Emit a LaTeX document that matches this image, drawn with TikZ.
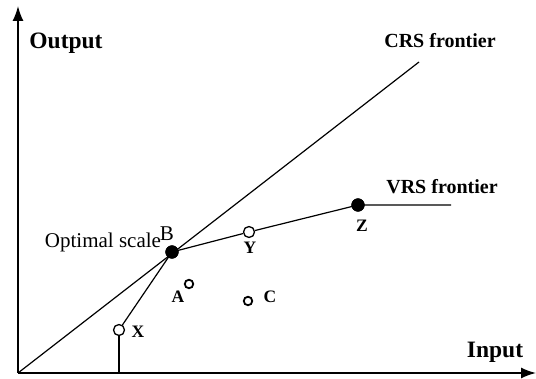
\documentclass[tikz,border=0pt]{standalone}
\usepackage{fontspec}
\setmainfont{Liberation Serif}
\usetikzlibrary{arrows.meta}
\begin{document}
\begin{tikzpicture}[x=1pt,y=-1pt,
  line width=1.2pt,
  axis/.style={line width=1.6pt,-{Latex[length=15pt,width=11pt]}},
  opendot/.style={circle,draw,fill=white,line width=1.3pt,inner sep=0pt,minimum size=11pt},
  filldot/.style={circle,draw,fill=black,inner sep=0pt,minimum size=12pt},
  small/.style={circle,draw,fill=white,line width=1.8pt,inner sep=0pt,minimum size=8.5pt},
  bigl/.style={font=\fontsize{23.5}{26}\selectfont\bfseries},
  midl/.style={font=\fontsize{20}{23}\selectfont\bfseries},
  ptl/.style={font=\fontsize{17.5}{20}\selectfont\bfseries},
  reg/.style={font=\fontsize{21}{24}\selectfont}]
\useasboundingbox (0,0) rectangle (536,379);
\coordinate (O) at (18,373);
\coordinate (ytop) at (18,6);
\coordinate (xend) at (536,373);
\coordinate (crsend) at (419,62);
\coordinate (vrsend) at (451,205);
\coordinate (xbase) at (119,373);
\node[filldot] (B) at (172,252) {};
\node[opendot] (X) at (119,330) {};
\node[opendot] (Y) at (249,232) {};
\node[filldot] (Z) at (358,205) {};
\node[small] (A) at (189,284) {};
\node[small] (C) at (248,301) {};
\draw (O) -- (crsend);
\draw (X) -- (B.center);
\draw (B.center) -- (Y) -- (Z.center) -- (vrsend);
\draw (X) -- (xbase);
\node[filldot] at (B) {};
\node[filldot] at (Z) {};
\draw[axis] (O) -- (ytop);
\draw[axis] (O) -- (xend);
\node[bigl] (lout) at (66,43) {Output};
\node[bigl] (lin) at (495,352) {Input};
\node[midl] (lcrs) at (440,41) {CRS frontier};
\node[midl] (lvrs) at (442,187) {VRS frontier};
\node[reg] (lopt) at (103,242) {Optimal scale};
\node[reg] (lB) at (167,234) {B};
\node[ptl] (lX) at (138,332) {X};
\node[ptl] (lY) at (250,248) {Y};
\node[ptl] (lZ) at (362,226) {Z};
\node[ptl] (lA) at (178,297) {A};
\node[ptl] (lC) at (270,297) {C};
\end{tikzpicture}
\end{document}
